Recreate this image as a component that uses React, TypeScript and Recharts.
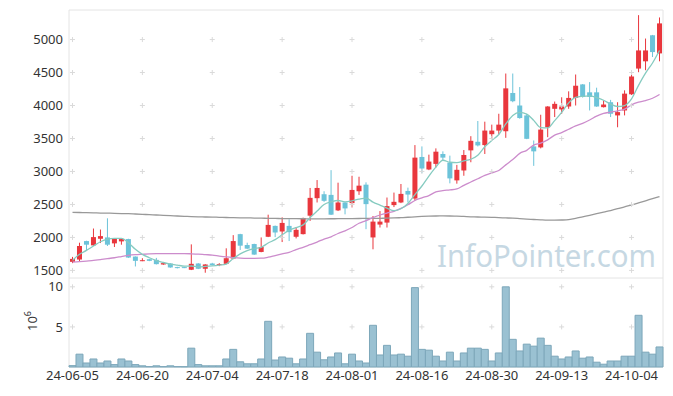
import { ComposedChart, Bar, Line, XAxis, YAxis, ReferenceArea, ReferenceDot, Label } from 'recharts'

const dates = [
  '24-06-05', '24-06-07', '24-06-10', '24-06-11', '24-06-12', '24-06-13', '24-06-14', '24-06-17', '24-06-18', '24-06-19',
  '24-06-20', '24-06-21', '24-06-24', '24-06-25', '24-06-26', '24-06-27', '24-06-28', '24-07-01', '24-07-02', '24-07-03',
  '24-07-04', '24-07-05', '24-07-08', '24-07-09', '24-07-10', '24-07-11', '24-07-12', '24-07-15', '24-07-16', '24-07-17',
  '24-07-18', '24-07-19', '24-07-22', '24-07-23', '24-07-24', '24-07-25', '24-07-26', '24-07-29', '24-07-30', '24-07-31',
  '24-08-01', '24-08-02', '24-08-05', '24-08-06', '24-08-07', '24-08-08', '24-08-09', '24-08-12', '24-08-13', '24-08-14',
  '24-08-16', '24-08-19', '24-08-20', '24-08-21', '24-08-22', '24-08-23', '24-08-26', '24-08-27', '24-08-28', '24-08-29',
  '24-08-30', '24-09-02', '24-09-03', '24-09-04', '24-09-05', '24-09-06', '24-09-09', '24-09-10', '24-09-11', '24-09-12',
  '24-09-13', '24-09-19', '24-09-20', '24-09-23', '24-09-24', '24-09-25', '24-09-26', '24-09-27', '24-09-30', '24-10-02',
  '24-10-04', '24-10-07', '24-10-08', '24-10-10', '24-10-11',
]

const opens = [
  1630, 1665, 1945, 1880, 1980, 2000, 1910, 1940, 1975, 1710,
  1645, 1670, 1660, 1590, 1605, 1550, 1550, 1510, 1605, 1525,
  1605, 1580, 1600, 1680, 2050, 1885, 1900, 1780, 2010, 2175,
  2090, 2175, 2010, 2050, 2330, 2595, 2655, 2645, 2410, 2530,
  2520, 2700, 2800, 2000, 2195, 2225, 2490, 2530, 2705, 2590,
  3220, 3030, 3115, 3265, 3135, 2865, 3015, 3320, 3450, 3400,
  3565, 3620, 3610, 4190, 4000, 3850, 3380, 3365, 3670, 3950,
  3940, 3985, 4115, 4320, 4200, 4200, 3975, 4050, 3850, 3925,
  4170, 4560, 4670, 5065, 4790,
]

const highs = [
  1705, 1920, 1950, 2135, 2120, 2290, 1990, 1985, 1980, 1712,
  1685, 1675, 1690, 1612, 1610, 1555, 1555, 1895, 1610, 1595,
  1615, 1610, 1835, 2035, 2055, 1920, 1905, 2000, 2345, 2180,
  2305, 2275, 2155, 2300, 2750, 2870, 2700, 3020, 2830, 2535,
  2935, 2920, 2835, 2325, 2400, 2605, 2680, 2810, 2755, 3400,
  3380, 3255, 3350, 3305, 3240, 3100, 3325, 3535, 3765, 3755,
  3710, 3875, 4485, 4485, 4280, 3870, 3470, 3860, 3990, 4060,
  4125, 4215, 4470, 4325, 4355, 4270, 4075, 4085, 4050, 4230,
  4490, 5370, 5015, 5070, 5335,
]

const lows = [
  1610, 1640, 1795, 1870, 1915, 1870, 1855, 1890, 1690, 1560,
  1640, 1640, 1590, 1585, 1540, 1530, 1535, 1505, 1520, 1465,
  1575, 1565, 1595, 1670, 1810, 1825, 1735, 1775, 2005, 2005,
  1930, 1945, 1985, 2045, 2250, 2530, 2540, 2340, 2400, 2350,
  2455, 2645, 2125, 1820, 2150, 2150, 2460, 2520, 2530, 2555,
  2975, 3020, 3060, 3165, 2820, 2815, 2935, 3140, 3380, 3265,
  3500, 3560, 3510, 4050, 3800, 3490, 3085, 3350, 3520, 3825,
  3875, 3950, 4000, 4120, 3925, 3980, 3970, 3825, 3670, 3850,
  4160, 4505, 4535, 4735, 4670,
]

const closes = [
  1675, 1870, 1890, 2005, 2020, 1890, 1985, 1975, 1695, 1645,
  1655, 1645, 1595, 1610, 1545, 1540, 1540, 1600, 1525, 1590,
  1580, 1595, 1685, 1945, 1875, 1830, 1740, 1855, 2190, 2075,
  2220, 2080, 2115, 2295, 2600, 2750, 2555, 2345, 2530, 2440,
  2720, 2785, 2505, 2240, 2240, 2475, 2540, 2660, 2650, 3210,
  3045, 3150, 3300, 3210, 2895, 3025, 3250, 3465, 3395, 3620,
  3620, 3710, 4260, 4065, 3810, 3495, 3305, 3635, 3985, 4025,
  3985, 4115, 4300, 4130, 4130, 3985, 4015, 3875, 3900, 4180,
  4440, 4835, 4835, 4810, 5245,
]

// volume, in units of 10^6
const volumes = [
  0.17, 1.6, 0.5, 1.0, 0.5, 0.75, 0.3, 1.0, 0.75, 0.3,
  0.15, 0.05, 0.15, 0.05, 0.15, 0.05, 0.04, 2.35, 0.3, 0.15,
  0.15, 0.15, 1.0, 2.2, 0.65, 0.4, 0.4, 1.0, 5.7, 0.87,
  1.25, 1.1, 0.4, 1.0, 4.2, 1.85, 0.9, 1.25, 1.75, 0.4,
  1.6, 0.75, 0.5, 5.2, 1.5, 2.7, 1.5, 1.6, 1.35, 9.9,
  2.2, 2.1, 1.35, 0.75, 1.85, 0.75, 1.75, 2.35, 2.35, 2.2,
  0.75, 1.75, 10.0, 3.45, 2.0, 2.85, 2.6, 3.6, 2.7, 1.35,
  1.0, 1.25, 2.0, 1.1, 1.25, 0.6, 0.35, 0.75, 0.75, 1.35,
  1.35, 6.45, 1.85, 1.6, 2.5,
]

const ma5 = [
  1652, 1744, 1804, 1870, 1935, 1976, 1987, 1985, 1920, 1820,
  1744, 1692, 1650, 1620, 1595, 1580, 1566, 1567, 1555, 1560,
  1568, 1580, 1597, 1680, 1750, 1800, 1830, 1850, 1915, 1966,
  2040, 2110, 2150, 2190, 2300, 2400, 2500, 2540, 2560, 2540,
  2555, 2580, 2596, 2535, 2490, 2445, 2405, 2435, 2515, 2650,
  2780, 2930, 3065, 3170, 3140, 3135, 3160, 3185, 3245, 3375,
  3470, 3560, 3720, 3850, 3895, 3870, 3775, 3665, 3660, 3770,
  3895, 4040, 4125, 4140, 4145, 4120, 4080, 4020, 3985, 4000,
  4100, 4305, 4490, 4645, 4835,
]

const ma20 = [
  1627, 1632, 1640, 1652, 1665, 1678, 1692, 1710, 1728, 1738,
  1744, 1750, 1754, 1755, 1755, 1755, 1754, 1752, 1748, 1740,
  1733, 1718, 1705, 1695, 1687, 1683, 1683, 1685, 1700, 1725,
  1750, 1775, 1815, 1850, 1890, 1930, 1975, 2010, 2060, 2100,
  2150, 2215, 2255, 2300, 2340, 2370, 2395, 2440, 2495, 2560,
  2600, 2635, 2690, 2710, 2720, 2735, 2790, 2840, 2890, 2940,
  2980, 3015, 3100, 3180, 3275, 3320, 3400, 3430, 3480, 3550,
  3590, 3640, 3690, 3730, 3780, 3840, 3880, 3900, 3920, 3945,
  4010, 4050, 4075, 4110, 4168,
]

const ma120 = [
  2380, 2378, 2376, 2373, 2370, 2368, 2365, 2362, 2360, 2355,
  2350, 2345, 2340, 2335, 2330, 2325, 2320, 2315, 2312, 2310,
  2308, 2305, 2302, 2300, 2298, 2296, 2294, 2292, 2290, 2288,
  2286, 2285, 2284, 2283, 2282, 2282, 2282, 2283, 2284, 2285,
  2286, 2287, 2288, 2289, 2290, 2292, 2295, 2300, 2306, 2312,
  2318, 2322, 2325, 2326, 2325, 2322, 2318, 2313, 2310, 2308,
  2305, 2300, 2296, 2292, 2285, 2278, 2272, 2266, 2262, 2262,
  2264, 2270, 2288, 2312, 2335, 2360, 2385, 2408, 2435, 2465,
  2492, 2523, 2555, 2588, 2620,
]

const priceTicks = [1500, 2000, 2500, 3000, 3500, 4000, 4500, 5000]
const volumeTicks = [5, 10]
const dateTicks = ['24-06-05', '24-06-20', '24-07-04', '24-07-18', '24-08-01', '24-08-16', '24-08-30', '24-09-13', '24-10-04']

const rows = dates.map((date, i) => ({
  date,
  open: opens[i],
  high: highs[i],
  low: lows[i],
  close: closes[i],
  vol: volumes[i],
  ma5: ma5[i],
  ma20: ma20[i],
  ma120: ma120[i],
}))

const RED = '#e9373d'
const BLUE = '#6cc3d9'
const GRID = '#dadada'
const BORDER = '#e4e4e4'

const Candle = (props: any) => {
  let { x, y, width, height } = props
  const { open, close, high, low } = props.payload
  if (height < 0) {
    y += height
    height = -height
  }
  const color = close >= open ? RED : BLUE
  const ratio = height / (high - low || 1)
  const cx = x + width / 2
  const top = y + (high - Math.max(open, close)) * ratio
  const bottom = y + (high - Math.min(open, close)) * ratio
  return (
    <g>
      <line x1={cx} x2={cx} y1={y} y2={y + height} stroke={color} strokeWidth={1} />
      <rect x={cx - 2.5} y={top} width={5} height={Math.max(bottom - top, 1)} fill={color} />
    </g>
  )
}

const Plus = (props: any) => {
  const { cx, cy } = props
  return <path d={`M${cx - 2.5},${cy}H${cx + 2.5}M${cx},${cy - 2.5}V${cy + 2.5}`} stroke={GRID} strokeWidth={1} fill="none" />
}

const tickStyle = { fill: '#333', fontSize: 13 }

export default function App() {
  return (
    <div style={{ position: 'absolute', left: 0, top: 0, width: 673, height: 396, fontFamily: '"Noto Sans", sans-serif', background: '#fff' }}>
      <svg width={673} height={396} style={{ position: 'absolute', left: 0, top: 0 }}>
        <text x={437} y={267} fontSize={31} fill="#c6d8e3" textLength={219} lengthAdjust="spacingAndGlyphs" fontFamily='"Noto Sans", sans-serif'>
          InfoPointer.com
        </text>
      </svg>
      <div style={{ position: 'absolute', left: 0, top: 0 }}>
        <ComposedChart width={673} height={278} data={rows} margin={{ top: 10, right: 10, bottom: 0, left: 0 }} barCategoryGap={0}>
          <XAxis dataKey="date" hide />
          <YAxis
            width={69}
            domain={[1385, 5448]}
            ticks={priceTicks}
            interval={0}
            axisLine={false}
            tickLine={false}
            tickSize={4}
            tickMargin={2}
            tick={tickStyle}
          />
          <ReferenceArea y1={1385} y2={5448} fill="none" stroke={BORDER} strokeWidth={1} />
          {dateTicks.map((d) =>
            priceTicks.map((p) => <ReferenceDot key={d + p} x={d} y={p} shape={Plus} />)
          )}
          <Bar dataKey={(d: any) => [d.low, d.high]} shape={Candle} isAnimationActive={false} />
          <Line type="monotone" dataKey="ma120" stroke="#999999" strokeWidth={1.3} dot={false} isAnimationActive={false} />
          <Line type="monotone" dataKey="ma20" stroke="#cc8ccc" strokeWidth={1.3} dot={false} isAnimationActive={false} />
          <Line type="monotone" dataKey="ma5" stroke="#86cbc0" strokeWidth={1.3} dot={false} isAnimationActive={false} />
        </ComposedChart>
      </div>
      <div style={{ position: 'absolute', left: 0, top: 278 }}>
        <ComposedChart width={673} height={118} data={rows} margin={{ top: 0, right: 10, bottom: 0, left: 0 }} barCategoryGap={0}>
          <XAxis
            dataKey="date"
            ticks={dateTicks}
            interval={0}
            height={29}
            axisLine={false}
            tickLine={false}
            tickSize={2}
            tickMargin={2}
            tick={tickStyle}
          />
          <YAxis
            width={69}
            domain={[0, 11.1]}
            ticks={volumeTicks}
            interval={0}
            axisLine={false}
            tickLine={false}
            tickSize={4}
            tickMargin={2}
            tick={tickStyle}
          >
            <Label
              content={() => (
                <text transform="translate(37,43) rotate(-90)" fontSize={13} fill="#333" textAnchor="middle">
                  10<tspan dy={-6} fontSize={9}>6</tspan>
                </text>
              )}
            />
          </YAxis>
          <ReferenceArea y1={0} y2={11.1} fill="none" stroke={BORDER} strokeWidth={1} />
          {dateTicks.map((d) =>
            volumeTicks.map((v) => <ReferenceDot key={d + v} x={d} y={v} shape={Plus} />)
          )}
          <Bar dataKey="vol" fill="#9ac1d2" stroke="#7da7ba" strokeWidth={1} isAnimationActive={false} />
        </ComposedChart>
      </div>
    </div>
  )
}
